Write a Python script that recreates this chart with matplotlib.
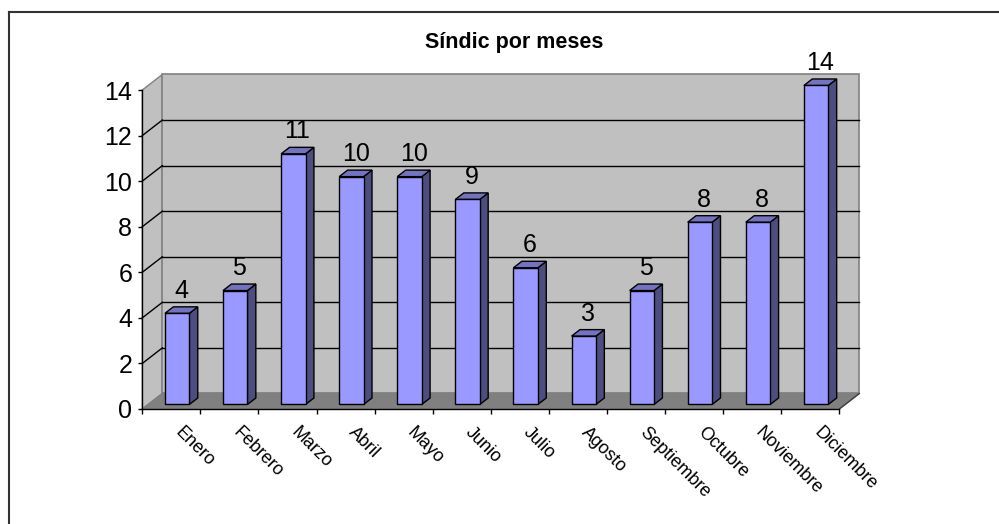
import matplotlib
matplotlib.use("Agg")
import matplotlib.pyplot as plt
from matplotlib.patches import Polygon
from matplotlib.lines import Line2D
import matplotlib.transforms as mtransforms

plt.rcParams['font.family'] = ['Liberation Sans', 'DejaVu Sans']

# datos
meses = ['Enero', 'Febrero', 'Marzo', 'Abril', 'Mayo', 'Junio', 'Julio',
         'Agosto', 'Septiembre', 'Octubre', 'Noviembre', 'Diciembre']
valores = [4, 5, 11, 10, 10, 9, 6, 3, 5, 8, 8, 14]
titulo = 'Síndic por meses'
y_ticks = [0, 2, 4, 6, 8, 10, 12, 14]

# estilo "3D" tipo Excel
DX = 20 / 58.0      # profundidad en unidades de categoria
DY = 15.5 / 22.75   # profundidad en unidades de valor
z0, z1 = 0.29, 0.71
ancho = 0.42
c_frente = '#9999ff'
c_lado = '#4d4d80'
c_arriba = '#7373c0'
c_pared = '#c0c0c0'
c_suelo = '#808080'

W, H = 999, 524
fig = plt.figure(figsize=(W / 100, H / 100), dpi=100)
ax = fig.add_axes([142.3 / W, 1 - 409 / H, (839.3 - 142.3) / W, (409 - 90) / H])
ax.set_facecolor('none')
n = len(meses)
ax.set_xlim(0, n)
ax.set_ylim(0, max(y_ticks))

# paredes y suelo
top = max(y_ticks)
ax.add_patch(Polygon([(0, 0), (0, top), (DX, top + DY), (DX, DY)], closed=True,
                     facecolor=c_pared, edgecolor='#808080', lw=1, clip_on=False, zorder=1))
ax.add_patch(Polygon([(DX, DY), (n + DX, DY), (n + DX, top + DY), (DX, top + DY)], closed=True,
                     facecolor=c_pared, edgecolor='#808080', lw=1.2, clip_on=False, zorder=1))
ax.add_patch(Polygon([(0, 0), (n, 0), (n + DX, DY), (DX, DY)], closed=True,
                     facecolor=c_suelo, edgecolor='#808080', lw=1, clip_on=False, zorder=1.5))
ax.add_line(Line2D([n, n + DX], [0, DY], color='#404040', lw=1, clip_on=False, zorder=2))

for v in y_ticks[1:-1]:
    ax.add_line(Line2D([DX, n + DX], [v + DY, v + DY], color='black', lw=1, clip_on=False, zorder=2))
    ax.add_line(Line2D([0, DX], [v, v + DY], color='black', lw=1, clip_on=False, zorder=2))

# barras
for i, v in enumerate(valores):
    l = i + 0.5 - ancho / 2
    r = i + 0.5 + ancho / 2
    fx, fy = z0 * DX, z0 * DY
    bx, by = z1 * DX, z1 * DY
    frente = [(l + fx, fy), (r + fx, fy), (r + fx, v + fy), (l + fx, v + fy)]
    lado = [(r + fx, fy), (r + bx, by), (r + bx, v + by), (r + fx, v + fy)]
    arriba = [(l + fx, v + fy), (r + fx, v + fy), (r + bx, v + by), (l + bx, v + by)]
    for pts, col in [(lado, c_lado), (arriba, c_arriba), (frente, c_frente)]:
        ax.add_patch(Polygon(pts, closed=True, facecolor=col, edgecolor='black',
                             lw=1, joinstyle='miter', clip_on=False, zorder=3))
    ax.annotate(str(v), xy=(i + 0.5 + 0.5 * DX, v + by), xytext=(0, 6.5),
                textcoords='offset points', ha='center', va='baseline',
                fontsize=18, annotation_clip=False, zorder=4)

# ejes
for s in ['top', 'right']:
    ax.spines[s].set_visible(False)
for s in ['left', 'bottom']:
    ax.spines[s].set_color('black')
    ax.spines[s].set_linewidth(1)
    ax.spines[s].set_zorder(5)
ax.set_yticks(y_ticks)
ax.tick_params(axis='y', direction='out', length=3.2, width=1, pad=4, labelsize=18)
ax.set_xticks(range(n + 1))
ax.set_xticklabels([])
ax.tick_params(axis='x', direction='out', length=3.6, width=1)

desp = mtransforms.ScaledTranslation(8.6 / 72, -10.8 / 72, fig.dpi_scale_trans)
for i, m in enumerate(meses):
    ax.text(i + 0.5, 0, m, rotation=-45, rotation_mode='anchor', ha='left', va='top',
            fontsize=13, transform=ax.transData + desp, clip_on=False)

fig.text(514 / W, 1 - 48 / H, titulo, ha='center', va='baseline',
         fontsize=15.5, fontweight='bold')

# marco exterior
fig.add_artist(Line2D([9 / W, 1.01], [1 - 11.5 / H, 1 - 11.5 / H], color='#333333', lw=1.5,
                      transform=fig.transFigure))
fig.add_artist(Line2D([9 / W, 9 / W], [1 - 11.5 / H, -0.01], color='#333333', lw=1.5,
                      transform=fig.transFigure))

fig.savefig('out.png', dpi=100)
